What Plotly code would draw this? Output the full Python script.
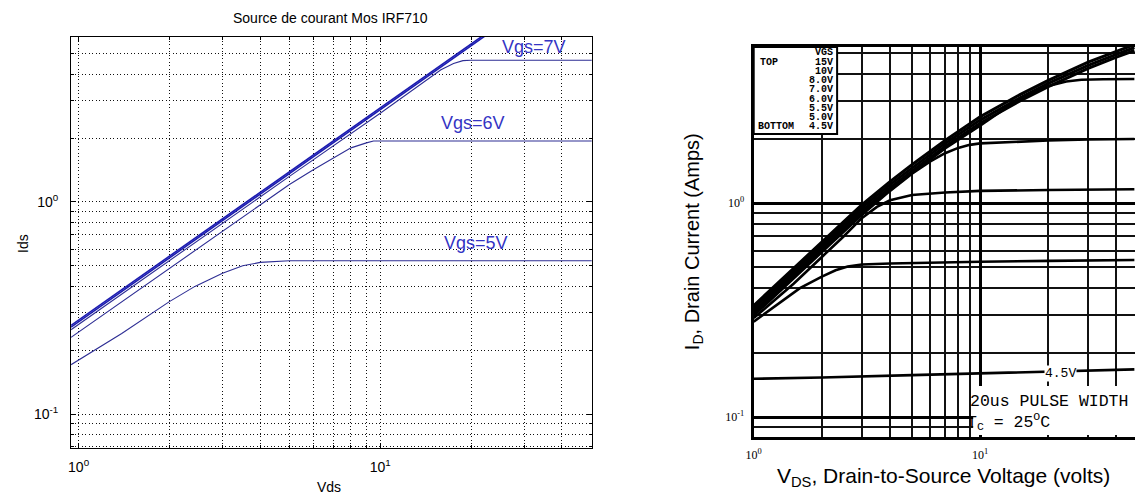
import plotly.graph_objects as go

W, H = 1135, 496

# ---------------- Left panel : simulation "Source de courant Mos IRF710" ----------------
sim_title = "Source de courant Mos IRF710"
sim_xlabel = "Vds"
sim_ylabel = "Ids"
sim_x_tickvals = [1, 10]
sim_x_ticktext = ["10<sup>0</sup>", "10<sup>1</sup>"]
sim_y_tickvals = [0.1, 1]
sim_y_ticktext = ["10<sup>-1</sup>", "10<sup>0</sup>"]
sim_x_minor = [2, 3, 4, 5, 6, 7, 8, 9, 20, 30, 40, 50]
sim_y_minor = [0.07, 0.08, 0.09, 0.2, 0.3, 0.4, 0.5, 0.6, 0.7, 0.8, 0.9, 2, 3, 4, 5, 6]

# the thick upper bundle (higher Vgs, not saturated in the window)
sim_top_x = [0.944, 2, 5, 10, 20, 23]
sim_top_a_y = [0.262, 0.556, 1.39, 2.78, 5.56, 6.39]
sim_top_b_y = [0.257, 0.545, 1.36, 2.72, 5.45, 6.27]
# Vgs = 7 V
sim_7v_x = [0.944, 2, 5, 10, 13.7, 15.9, 17.5, 18.8, 20, 50.3]
sim_7v_y = [0.250, 0.53, 1.32, 2.62, 3.6, 4.2, 4.5, 4.64, 4.66, 4.66]
# Vgs = 6 V
sim_6v_x = [0.944, 2, 4, 5, 6, 7, 8, 9, 9.5, 10, 50.3]
sim_6v_y = [0.230, 0.487, 0.97, 1.21, 1.42, 1.61, 1.80, 1.90, 1.94, 1.94, 1.94]
# Vgs = 5 V
sim_5v_x = [0.944, 1.39, 2, 2.43, 3, 3.5, 4, 4.5, 5, 50.3]
sim_5v_y = [0.171, 0.24, 0.339, 0.40, 0.461, 0.50, 0.519, 0.526, 0.528, 0.528]

sim_labels = ["Vgs=7V", "Vgs=6V", "Vgs=5V"]

# ---------------- Right panel : IRF710 datasheet, typical output characteristics ----------------
ds_xlabel = "V<sub>DS</sub>, Drain-to-Source Voltage (volts)"
ds_ylabel = "I<sub>D</sub>, Drain Current (Amps)"
ds_x_tickvals = [1, 10]
ds_x_ticktext = ["10<sup>0</sup>", "10<sup>1</sup>"]
ds_y_tickvals = [0.1, 1]
ds_y_ticktext = ["10<sup>-1</sup>", "10<sup>0</sup>"]
ds_x_minor = [2, 3, 4, 5, 6, 7, 8, 9, 20, 30, 40]
ds_y_minor = [0.09, 0.2, 0.3, 0.4, 0.5, 0.6, 0.7, 0.8, 0.9, 2, 3, 4, 5]

ds_bundle_x = [1, 1.6, 2, 2.5, 3, 4, 5, 7, 10, 15, 20, 30, 40, 48]
ds_15v_y = [0.332, 0.527, 0.655, 0.815, 0.98, 1.26, 1.51, 1.96, 2.53, 3.21, 3.74, 4.55, 5.11, 5.50]
ds_10v_y = [0.322, 0.51, 0.635, 0.79, 0.95, 1.22, 1.46, 1.90, 2.44, 3.10, 3.62, 4.40, 4.95, 5.33]
ds_8v_y = [0.312, 0.494, 0.615, 0.765, 0.92, 1.18, 1.41, 1.84, 2.36, 3.00, 3.50, 4.26, 4.80, 5.16]
ds_7v_x = [1, 2, 3, 5, 7, 10, 13, 16, 20, 24, 28, 35, 48]
ds_7v_y = [0.305, 0.60, 0.90, 1.38, 1.80, 2.30, 2.78, 3.17, 3.52, 3.70, 3.77, 3.79, 3.80]
ds_6v_x = [1, 2, 3, 4, 5, 6, 7, 8, 9, 10, 15, 20, 30, 48]
ds_6v_y = [0.298, 0.59, 0.88, 1.14, 1.37, 1.56, 1.71, 1.81, 1.87, 1.90, 1.94, 1.96, 1.98, 1.99]
ds_55v_x = [1, 1.5, 2, 2.5, 3, 3.5, 4, 5, 7, 10, 20, 48]
ds_55v_y = [0.29, 0.42, 0.56, 0.70, 0.85, 0.96, 1.03, 1.09, 1.12, 1.14, 1.15, 1.16]
ds_5v_x = [1, 1.32, 1.6, 2, 2.3, 2.6, 3, 4, 5, 10, 20, 48]
ds_5v_y = [0.279, 0.346, 0.40, 0.453, 0.485, 0.505, 0.516, 0.522, 0.525, 0.532, 0.537, 0.542]
ds_45v_x = [1, 2, 5, 10, 20, 48]
ds_45v_y = [0.151, 0.153, 0.157, 0.160, 0.163, 0.167]

ds_legend_head = "VGS"
ds_legend_vgs = ["15V", "10V", "8.0V", "7.0V", "6.0V", "5.5V", "5.0V", "4.5V"]
ds_note_1 = "20us PULSE WIDTH"
ds_note_2 = "T<sub>C</sub> = 25<sup>O</sup>C"
ds_curve_label = "4.5V"


def PX(x):
    return x / W


def PY(y):
    return 1 - y / H


fig = go.Figure()

SIM_BLUE = "#2e2e94"
SIM_TOP = "#1c1cb0"
for yy in (sim_top_a_y, sim_top_b_y):
    fig.add_trace(go.Scatter(x=sim_top_x, y=yy, mode="lines", line=dict(color=SIM_TOP, width=1.6),
                             xaxis="x", yaxis="y", showlegend=False, hoverinfo="skip"))
for xx, yy in ((sim_7v_x, sim_7v_y), (sim_6v_x, sim_6v_y), (sim_5v_x, sim_5v_y)):
    fig.add_trace(go.Scatter(x=xx, y=yy, mode="lines", line=dict(color=SIM_BLUE, width=1.1),
                             xaxis="x", yaxis="y", showlegend=False, hoverinfo="skip"))

for i, (xx, yy) in enumerate(((ds_bundle_x, ds_15v_y), (ds_bundle_x, ds_10v_y), (ds_bundle_x, ds_8v_y),
                              (ds_7v_x, ds_7v_y), (ds_6v_x, ds_6v_y), (ds_55v_x, ds_55v_y),
                              (ds_5v_x, ds_5v_y), (ds_45v_x, ds_45v_y))):
    fig.add_trace(go.Scatter(x=xx, y=yy, mode="lines",
                             line=dict(color="black", width=3.0 if i < 3 else 2.6),
                             xaxis="x2", yaxis="y2", showlegend=False, hoverinfo="skip"))

SANS = "Liberation Sans, Arial, sans-serif"
MONO = "Liberation Mono, Courier New, monospace"
SERIF = "Liberation Serif, Times New Roman, serif"
DOTS = "1px,2.5px"

dot_minor = dict(tickmode="array", showgrid=True, gridcolor="#111", griddash=DOTS, gridwidth=1,
                 ticks="inside", ticklen=3, tickcolor="black")

fig.update_layout(
    width=W, height=H, margin=dict(l=0, r=0, t=0, b=0),
    paper_bgcolor="white", plot_bgcolor="white", showlegend=False,
    xaxis=dict(type="log", domain=[PX(63.5), PX(588)], range=[-0.025, 1.7016], anchor="y",
               tickmode="array", tickvals=sim_x_tickvals, ticktext=sim_x_ticktext,
               showgrid=True, gridcolor="#111", griddash=DOTS, gridwidth=1,
               ticks="inside", ticklen=5, tickcolor="black",
               showline=True, linecolor="black", linewidth=1, mirror="ticks",
               tickfont=dict(family=SANS, size=14, color="black"), ticklabelstandoff=6,
               minor=dict(tickvals=sim_x_minor, **dot_minor), zeroline=False),
    yaxis=dict(type="log", domain=[PY(448), PY(37)], range=[-1.160, 0.778], anchor="x",
               tickmode="array", tickvals=sim_y_tickvals, ticktext=sim_y_ticktext,
               showgrid=True, gridcolor="#111", griddash=DOTS, gridwidth=1,
               ticks="inside", ticklen=5, tickcolor="black",
               showline=True, linecolor="black", linewidth=1, mirror="ticks",
               tickfont=dict(family=SANS, size=14, color="black"), ticklabelstandoff=9,
               minor=dict(tickvals=sim_y_minor, **dot_minor), zeroline=False),
    xaxis2=dict(type="log", domain=[PX(751), 1.0], range=[0, 1.684], anchor="y2",
                tickmode="array", tickvals=ds_x_tickvals, ticktext=ds_x_ticktext,
                showgrid=True, gridcolor="black", gridwidth=3, ticks="",
                showline=True, linecolor="black", linewidth=3, mirror=True,
                tickfont=dict(family=SERIF, size=12, color="black"), ticklabelstandoff=5,
                minor=dict(tickmode="array", tickvals=ds_x_minor, showgrid=True,
                           gridcolor="#111", gridwidth=1.6), zeroline=False),
    yaxis2=dict(type="log", domain=[PY(437), PY(47)], range=[-1.093, 0.729], anchor="x2",
                tickmode="array", tickvals=ds_y_tickvals, ticktext=ds_y_ticktext,
                showgrid=True, gridcolor="black", gridwidth=3, ticks="",
                showline=True, linecolor="black", linewidth=3, mirror=False,
                tickfont=dict(family=SERIF, size=12, color="black"), ticklabelstandoff=4,
                minor=dict(tickmode="array", tickvals=ds_y_minor, showgrid=True,
                           gridcolor="#111", gridwidth=1.6), zeroline=False),
)

ann = []
# left panel texts
ann.append(dict(text=sim_title, x=PX(325), y=PY(18), font=dict(family=SANS, size=14, color="black")))
ann.append(dict(text=sim_xlabel, x=PX(323), y=PY(487), font=dict(family=SANS, size=14, color="black")))
ann.append(dict(text=sim_ylabel, x=PX(15), y=PY(243), textangle=-90,
                font=dict(family=SANS, size=14, color="black")))
for lab, (lx, ly) in zip(sim_labels, [(530, 47), (468, 123), (471, 243)]):
    ann.append(dict(text=lab, x=PX(lx), y=PY(ly), font=dict(family=SANS, size=18, color="#3434c4")))

# right panel texts
ann.append(dict(text=ds_ylabel, x=PX(690), y=PY(242), textangle=-90,
                font=dict(family=SANS, size=20, color="black")))
ann.append(dict(text=ds_xlabel, x=PX(942), y=PY(477), font=dict(family=SANS, size=21, color="black")))
ann.append(dict(text=ds_note_1, x=PX(967), y=PY(401), xanchor="left",
                font=dict(family=MONO, size=16.5, color="black")))
ann.append(dict(text=ds_note_2, x=PX(964), y=PY(421), xanchor="left",
                font=dict(family=MONO, size=16.5, color="black")))
ann.append(dict(text=ds_curve_label, x=PX(1060), y=PY(373), bgcolor="white", borderpad=0,
                font=dict(family=MONO, size=13, color="black")))
# legend box
LEG = dict(family=MONO, size=10, color="black", weight="bold")
ann.append(dict(text=ds_legend_head, x=PX(833), y=PY(52.7), xanchor="right", font=LEG))
for i, v in enumerate(ds_legend_vgs):
    ann.append(dict(text=v, x=PX(833), y=PY(62 + i * 9.25), xanchor="right", font=LEG))
ann.append(dict(text="TOP", x=PX(755), y=PY(62), xanchor="left", font=LEG))
ann.append(dict(text="BOTTOM", x=PX(753), y=PY(62 + 7 * 9.25), xanchor="left", font=LEG))

for a in ann:
    a.setdefault("xanchor", "center")
    a.update(xref="paper", yref="paper", yanchor="middle", showarrow=False)
fig.update_layout(annotations=ann)

fig.update_layout(shapes=[
    dict(type="rect", xref="paper", yref="paper", x0=PX(751), x1=PX(835), y0=PY(134), y1=PY(47),
         fillcolor="white", line=dict(color="black", width=2), layer="above"),
    dict(type="rect", xref="paper", yref="paper", x0=PX(972), x1=PX(1135), y0=PY(435), y1=PY(386),
         fillcolor="white", line=dict(width=0), layer="above"),
])

fig.write_html("out.html", config={"displayModeBar": False},
               post_script="document.body.style.margin='0';document.body.style.overflow='hidden';")
